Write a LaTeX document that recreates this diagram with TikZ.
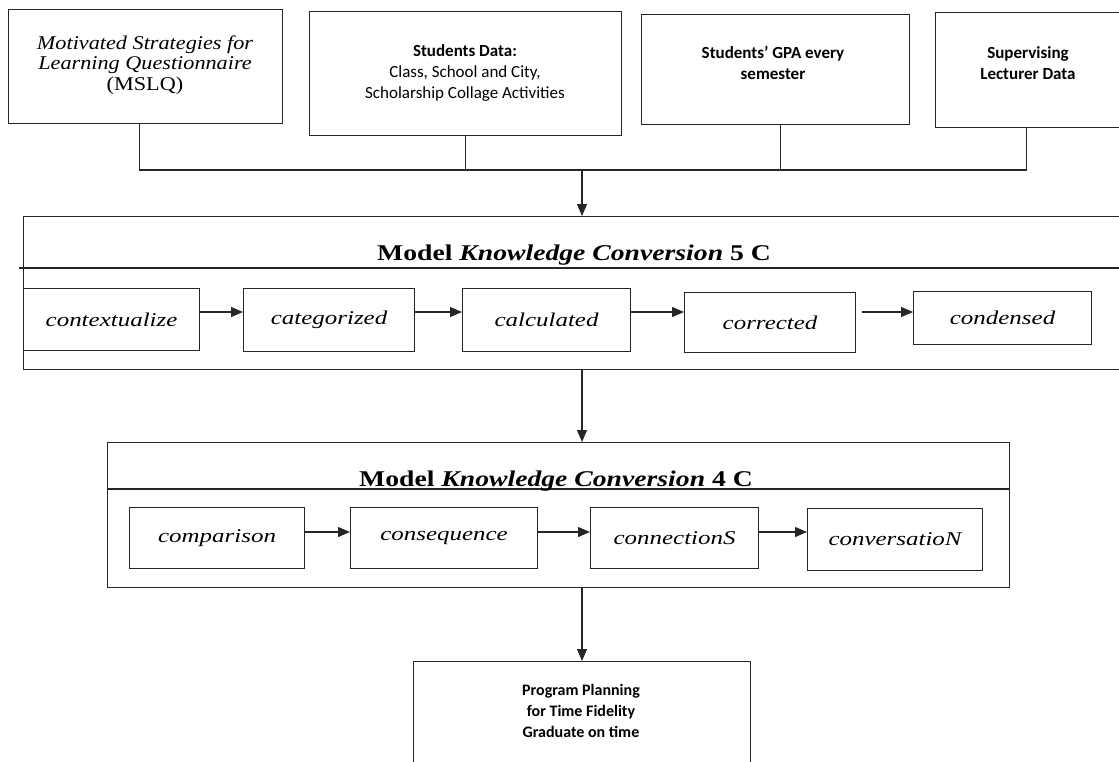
\documentclass[tikz,border=0pt]{standalone}
\usepackage{fontspec}
\usepackage{graphicx}
\setmainfont{Liberation Serif}
\newfontfamily\calfont{Carlito}
\usetikzlibrary{arrows.meta}
\newcommand\wit[1]{\scalebox{1.28}[1]{\itshape #1}}
\newcommand\bit[1]{\scalebox{1.14}[1]{#1}}
\tikzset{
  ln/.style={line width=1.1pt, black!85},
  arr/.style={line width=1.1pt, black!85, -{Triangle[length=12pt,width=10pt]}},
  box/.style={draw, line width=1.1pt, black!85, rectangle, inner sep=0pt, anchor=north west, text=black},
  itbox/.style={box, font=\fontsize{19.5}{23}\selectfont},
  ctext/.style={align=center, font=\calfont\fontsize{17}{21}\selectfont, text=black},
  ttl/.style={anchor=base, font=\fontsize{22.5}{26}\selectfont\bfseries, text=black}
}
\begin{document}
\begin{tikzpicture}[x=1pt,y=-1pt]
\useasboundingbox (0,0) rectangle (1119,761);
\fill[white] (0,0) rectangle (1119,761);
\clip (0,0) rectangle (1119,761);

% top boxes
\node[box, minimum width=274pt, minimum height=114pt] (b1) at (8,9) {};
\node[box, minimum width=312pt, minimum height=124pt] (b2) at (309,11) {};
\node[box, minimum width=268pt, minimum height=110pt] (b3) at (641,14) {};
\node[box, minimum width=187pt, minimum height=115pt] (b4) at (935,12) {};

\node[align=center, font=\fontsize{19.5}{20.5}\selectfont] (t1) at (145,65)
  {\bit{\itshape Motivated Strategies for}\\ \bit{\itshape Learning Questionnaire}\\ \bit{(MSLQ)}};
\node[ctext] (t2) at (465,72.5) {\textbf{Students Data:}\\ Class, School and City,\\ Scholarship Collage Activities};
\node[ctext, font=\calfont\fontsize{17}{21}\selectfont\bfseries] (t3) at (773,63) {Students’ GPA every\\ semester};
\node[ctext, font=\calfont\fontsize{17}{21}\selectfont\bfseries] (t4) at (1028,63) {Supervising\\ Lecturer Data};

% bus
\coordinate (bus) at (0,170);
\coordinate (j1) at ([xshift=-6pt]b1.south);
\coordinate (j3) at ([xshift=5pt]b3.south);
\coordinate (j4) at ([xshift=-3pt]b4.south);
\draw[ln] (j1) |- (j4 |- bus) -- (j4);
\draw[ln] (b2.south) -- (b2.south |- bus);
\draw[ln] (j3) -- (j3 |- bus);

% 5C container
\node[box, minimum width=1102pt, minimum height=153pt] (c5) at (23,216) {};
\draw[ln] (19,268) -- (1125,268);
\node[ttl] (t5) at (574,260) {\scalebox{1.23}[1]{Model \textit{Knowledge Conversion} 5 C}};

\node[itbox, minimum width=176pt, minimum height=62pt] (ctx) at (23,288) {\wit{contextualize}};
\node[itbox, minimum width=171pt, minimum height=63pt] (cat) at (243,288) {\wit{categorized}};
\node[itbox, minimum width=168pt, minimum height=63pt] (calc) at (462,288) {\wit{calculated}};
\node[itbox, minimum width=171pt, minimum height=60pt] (corr) at (684,292) {\wit{corrected}};
\node[itbox, minimum width=178pt, minimum height=53pt] (cond) at (913,291) {\wit{condensed}};

\coordinate (a5) at (0,312);
\draw[arr] (ctx.east |- a5) -- (cat.west |- a5);
\draw[arr] (cat.east |- a5) -- (calc.west |- a5);
\draw[arr] (calc.east |- a5) -- (corr.west |- a5);
\draw[arr] ([xshift=6pt]corr.east |- a5) -- (cond.west |- a5);

% 4C container
\node[box, minimum width=902pt, minimum height=145pt] (c4) at (107,442) {};
\draw[ln] (107,489) -- (1009,489);
\node[ttl] (t4c) at (556,486) {\scalebox{1.23}[1]{Model \textit{Knowledge Conversion} 4 C}};

\node[itbox, minimum width=175pt, minimum height=61pt] (comp) at (129,507) {\wit{comparison}};
\node[itbox, minimum width=187pt, minimum height=61pt] (cons) at (350,507) {\wit{consequence}};
\node[itbox, minimum width=168pt, minimum height=61pt] (conn) at (590,507) {\raisebox{-5pt}{\wit{connectionS}}};
\node[itbox, minimum width=175pt, minimum height=62pt] (conv) at (807,508) {\wit{conversatioN}};

\coordinate (a4) at (0,532);
\draw[arr] (comp.east |- a4) -- (cons.west |- a4);
\draw[arr] (cons.east |- a4) -- (conn.west |- a4);
\draw[arr] (conn.east |- a4) -- (conv.west |- a4);

% final box
\node[box, minimum width=337pt, minimum height=140pt] (fin) at (413,661) {};
\node[ctext, font=\calfont\fontsize{16}{21}\selectfont\bfseries] (tf) at (581,711) {Program Planning\\ for Time Fidelity\\ Graduate on time};

% vertical flow
\coordinate (mx) at (582,0);
\draw[arr] (mx |- bus) -- (mx |- c5.north);
\draw[arr] (mx |- c5.south) -- (mx |- c4.north);
\draw[arr] (mx |- c4.south) -- (mx |- fin.north);
\end{tikzpicture}
\end{document}
